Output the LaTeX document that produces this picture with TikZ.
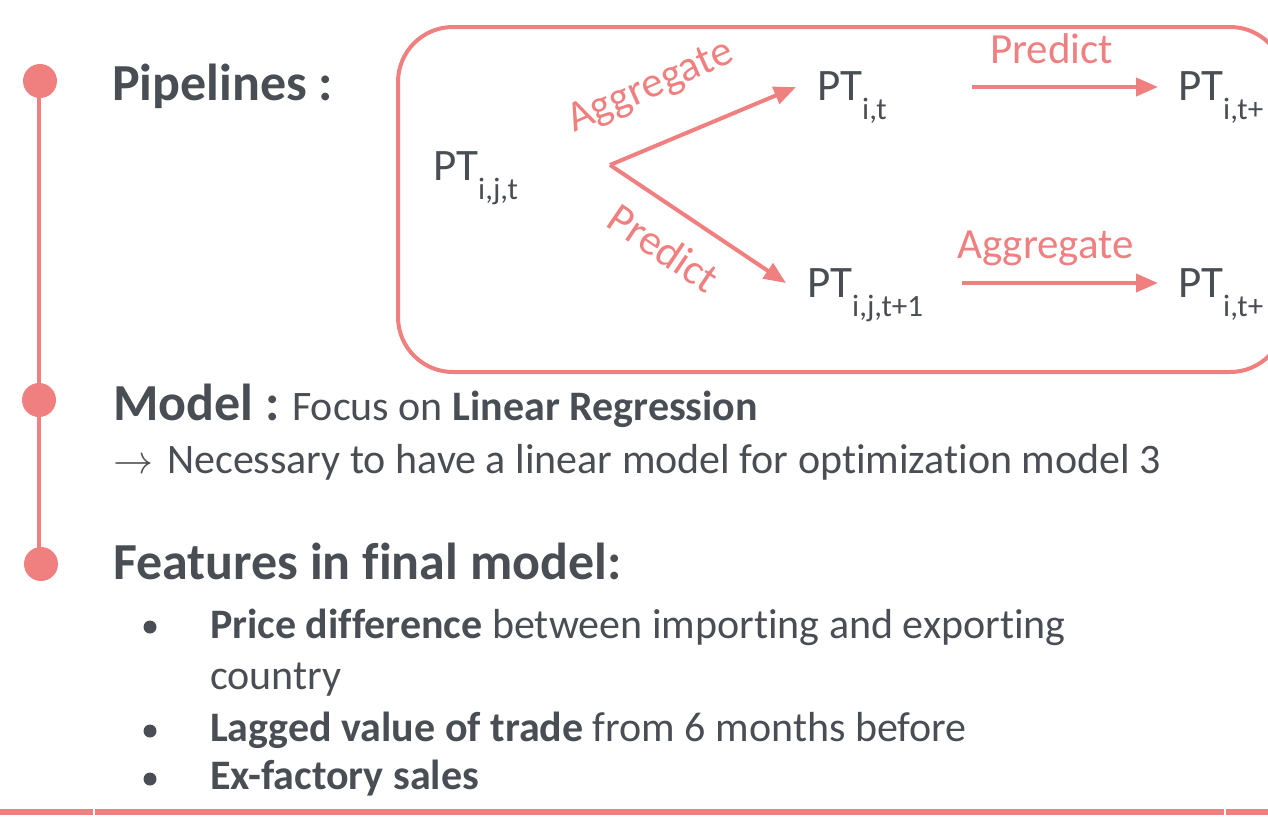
\documentclass[tikz,border=0pt]{standalone}
\usepackage{fontspec}
\setmainfont{Carlito}[Ligatures={NoCommon}]
\usetikzlibrary{arrows.meta}
\definecolor{accent}{RGB}{240,128,128}
\definecolor{ink}{RGB}{73,78,84}
\newcommand{\sbs}[1]{\raisebox{-19pt}{\fontsize{31}{31}\selectfont #1}}
\tikzset{
  head/.style={anchor=base west, inner sep=0pt, text=ink, font=\fontsize{52}{60}\selectfont\bfseries},
  body/.style={anchor=base west, inner sep=0pt, text=ink, font=\fontsize{42}{50}\selectfont},
  ptnode/.style={anchor=base west, inner sep=0pt, text=ink, font=\fontsize{45}{50}\selectfont},
  lbl/.style={inner sep=0pt, text=accent, font=\fontsize{43}{50}\selectfont},
  arr/.style={draw=accent, line width=4pt, -{Triangle[length=22pt,width=18pt]}},
  tdot/.style={circle, fill=accent, minimum size=34pt, inner sep=0pt},
  bul/.style={circle, fill=ink, minimum size=13pt, inner sep=0pt},
  rule/.style={draw=accent, line width=6pt},
}
\begin{document}
\begin{tikzpicture}[x=1pt,y=-1pt]
\useasboundingbox (0,0) rectangle (1268,830);
\clip (0,0) rectangle (1268,830);

% timeline
\coordinate (c1) at (40,81);
\coordinate (c2) at (39,400);
\coordinate (c3) at (41,564);
\draw[accent, line width=4pt] (39,81) -- (39,564);
\node[tdot] (d1) at (c1) {};
\node[tdot] (d2) at (c2) {};
\node[tdot] (d3) at (c3) {};

% pipeline box
\draw[accent, line width=4pt, rounded corners=55pt] (398,27) rectangle (1285,372);

\node[ptnode] (pijt) at (433,180) {PT\sbs{i,j,t}};
\node[ptnode] (pit) at (817,100) {PT\sbs{i,t}};
\node[ptnode] (pijt1) at (807,297) {PT\sbs{i,j,t+1}};
\node[ptnode] (pita) at (1178,100) {PT\sbs{i,t+}};
\node[ptnode] (pitb) at (1178,297) {PT\sbs{i,t+}};

\coordinate (fork) at (610,165);
\coordinate (tA) at (796,87);
\coordinate (tB) at (786,283);
\coordinate (sC) at (972,87);
\coordinate (tC) at (1158,87);
\coordinate (sD) at (962,283);
\coordinate (tD) at (1158,283);
\draw[arr] (fork) -- (tA);
\draw[arr] (fork) -- (tB);
\draw[arr] (sC) -- (tC);
\draw[arr] (sD) -- (tD);

\node[lbl, anchor=base west, rotate=24] (agg1) at (574,133) {Aggregate};
\node[lbl, rotate=-34] (pre1) at (664,248) {Predict};
\node[lbl, anchor=base west] (pre2) at (990,63) {Predict};
\node[lbl, anchor=base west] (agg2) at (957,258) {Aggregate};

% texts
\node[head] (pipe) at (112,100) {Pipelines :};
\node[head] (model) at (113,420) {Model :\fontsize{42}{50}\selectfont\mdseries{} Focus on \bfseries Linear Regression};
\node[body] (nec) at (113,473) {\resizebox{40pt}{!}{$\rightarrow$}\hspace{14pt}Necessary to have a linear model for optimization model 3};
\node[head] (feat) at (113,579) {Features in final model:};

\node[bul] (b1) at (150,627) {};
\node[bul] (b2) at (150,731) {};
\node[bul] (b3) at (150,779) {};
\node[body] (i1) at (210,638) {\textbf{Price difference} between importing and exporting};
\node[body] (i1b) at (210,689) {country};
\node[body] (i2) at (210,741) {\textbf{Lagged value of trade} from 6 months before};
\node[body] (i3) at (210,789) {\textbf{Ex-factory sales}};

% bottom rule
\draw[rule] (0,812) -- (93,812);
\draw[rule] (95,812) -- (1224,812);
\draw[rule] (1226,812) -- (1268,812);
\end{tikzpicture}
\end{document}
